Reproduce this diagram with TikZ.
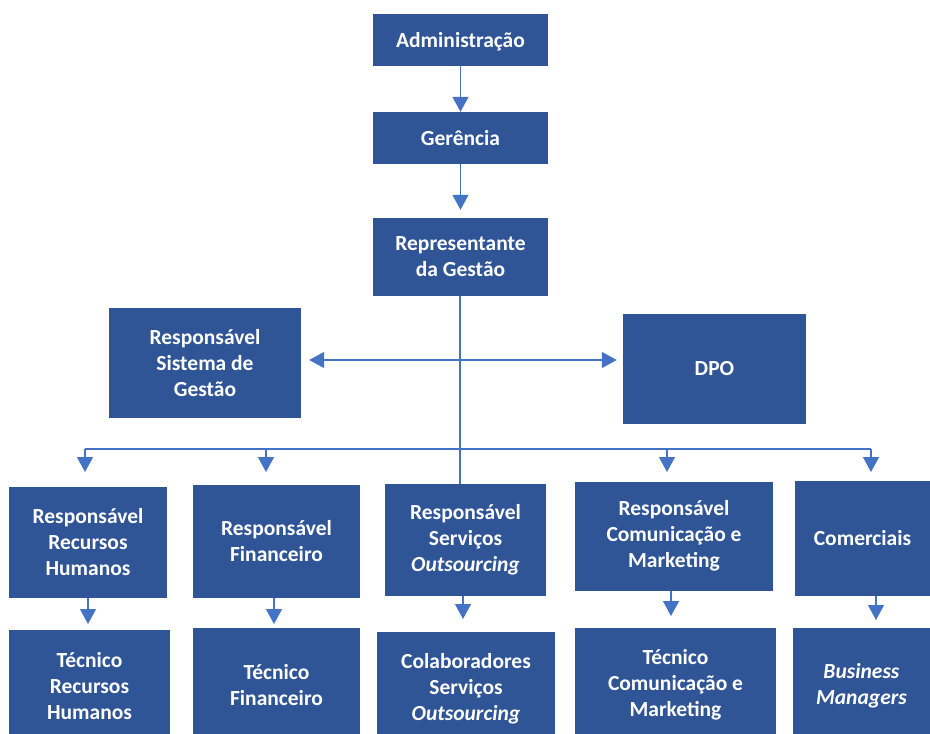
\documentclass[tikz,border=0pt]{standalone}
\usepackage{fontspec}
\setmainfont{Carlito}
\usetikzlibrary{arrows.meta}
\definecolor{boxblue}{HTML}{2F5597}
\definecolor{linkblue}{HTML}{4472C4}
\begin{document}
\begin{tikzpicture}[x=1pt,y=-1pt,
  box/.style 2 args={fill=boxblue, text=white, inner sep=0pt, align=center,
    minimum width=#1pt, minimum height=#2pt,
    font=\fontsize{21.5}{26}\selectfont\bfseries},
  link/.style={draw=linkblue, line width=1.2pt},
  arr/.style={link, -{Triangle[width=16pt,length=15pt]}},
  arrs/.style={link, {Triangle[width=16pt,length=15pt]}-{Triangle[width=16pt,length=15pt]}}]
\useasboundingbox (0,0) rectangle (930,734);
\clip (0,0) rectangle (930,734);

% top chain
\node[box={175}{52}, text depth=0pt] (adm) at (460.5,40) {Administração};
\node[box={175}{52}] (ger) at (460.5,138) {Gerência};
\node[box={175}{78}] (rep) at (460.5,257) {Representante\\da Gestão};

% staff positions beside the main line
\node[box={192}{110}] (rsg) at (205,363) {Responsável\\Sistema de\\Gestão};
\node[box={183}{110}] (dpo) at (714.5,369) {DPO};

% department heads
\node[box={158}{111}] (rrh) at (88,542.5) {Responsável\\Recursos\\Humanos};
\node[box={167}{113}] (rf)  at (276.5,541) {Responsável\\Financeiro};
\node[box={161}{112}] (rso) at (465.5,540) {Responsável\\Serviços\\\textit{Outsourcing}};
\node[box={198}{109}] (rcm) at (674,536) {Responsável\\Comunicação e\\Marketing};
\node[box={135}{115}] (com) at (862.5,538) {Comerciais};

% teams (their boxes run on below the lower edge)
\node[box={161}{112}] (trh) at (89.5,686) {Técnico\\Recursos\\Humanos};
\node[box={167}{114}] (tf)  at (276.5,685) {Técnico\\Financeiro};
\node[box={178}{114}] (cso) at (466,689) {Colaboradores\\Serviços\\\textit{Outsourcing}};
\node[box={201}{114}] (tcm) at (675.5,685) {Técnico\\Comunicação e\\Marketing};
\node[box={137}{116}] (bm)  at (861.5,686) {\textit{Business}\\\textit{Managers}};

% junction points of the connectors
\coordinate (spine) at (460,296);
\coordinate (mid) at (460,360);
\coordinate (busL) at (85,449);
\coordinate (busR) at (871,449);
\coordinate (b2) at (266,449);
\coordinate (b3) at (667,449);
\coordinate (t1) at (85,472);
\coordinate (t2) at (266,472);
\coordinate (t3) at (667,472);
\coordinate (t4) at (871,472);
\coordinate (d1) at (88,624);
\coordinate (d2) at (274,624);
\coordinate (d3) at (463,619);
\coordinate (d4) at (671,616);
\coordinate (d5) at (876,620);

% top chain arrows
\draw[arr] (adm) -- (ger);
\draw[arr, shorten >=8pt] (ger) -- (rep);

% main vertical line down to the outsourcing head
\draw[link] (spine) -- (spine |- rso.north);

% two-way link to the staff positions
\draw[arrs, shorten <=8pt, shorten >=6pt] (mid -| rsg.east) -- (mid -| dpo.west);

% distribution bus and its arrows
\draw[link] (busL) -- (busR);
\draw[arr] (busL) -- (t1);
\draw[arr] (b2) -- (t2);
\draw[arr] (b3) -- (t3);
\draw[arr] (busR) -- (t4);

% heads to teams
\draw[arr] (d1 |- rrh.south) -- (d1);
\draw[arr] (d2 |- rf.south) -- (d2);
\draw[arr] (d3 |- rso.south) -- (d3);
\draw[arr] (d4 |- rcm.south) -- (d4);
\draw[arr] (d5 |- com.south) -- (d5);
\end{tikzpicture}
\end{document}
